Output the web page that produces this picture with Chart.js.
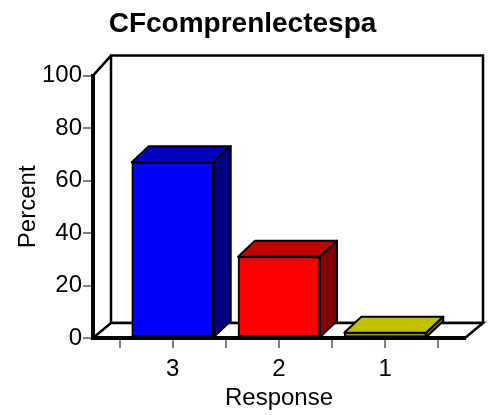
<!DOCTYPE html>
<html>
<head>
<meta charset="utf-8">
<script src="https://cdn.jsdelivr.net/npm/chart.js@4/dist/chart.umd.min.js"></script>
<style>
  html, body { margin: 0; padding: 0; background: #fff; }
  #wrap { width: 490px; height: 415px; }
</style>
</head>
<body>
<div id="wrap"><canvas id="chart" width="490" height="415"></canvas></div>
<script>
// data
const categories = ['3', '2', '1'];
const percents = [67, 31, 2];
const yLabelTicks = [0, 20, 40, 60, 80, 100];

const frontColors = ['#0000ff', '#ff0000', '#ffff00'];
const topColors = ['#0000c0', '#c00000', '#c0c000'];
const sideColors = ['#000080', '#800000', '#808000'];

// 3d depth of the box and bars, pixels
const WALL_DX = 18, WALL_DY_BOTTOM = -15, WALL_DY_TOP = -20;
const BAR_DX = 17, BAR_DY = -16;

const FONT = 'Arial, "Liberation Sans", Helvetica, sans-serif';
Chart.defaults.font.family = FONT;
Chart.defaults.color = '#000';

function poly(ctx, pts, fill) {
    ctx.beginPath();
    ctx.moveTo(pts[0][0], pts[0][1]);
    pts.slice(1).forEach(p => ctx.lineTo(p[0], p[1]));
    ctx.closePath();
    if (fill) {
        ctx.fillStyle = fill;
        ctx.fill();
    }
    ctx.stroke();
}

const box3d = {
    id: 'box3d',
    beforeDraw(chart) {
        const { ctx, chartArea: a } = chart;
        ctx.save();
        ctx.strokeStyle = '#000';
        ctx.lineWidth = 2.5;
        ctx.lineJoin = 'miter';
        // back wall
        poly(ctx, [
            [a.left + WALL_DX, a.top + WALL_DY_TOP],
            [a.right + WALL_DX, a.top + WALL_DY_TOP],
            [a.right + WALL_DX, a.bottom + WALL_DY_BOTTOM],
            [a.left + WALL_DX, a.bottom + WALL_DY_BOTTOM]
        ], '#fff');
        // floor
        poly(ctx, [
            [a.left, a.bottom],
            [a.left + WALL_DX, a.bottom + WALL_DY_BOTTOM],
            [a.right + WALL_DX, a.bottom + WALL_DY_BOTTOM],
            [a.right, a.bottom]
        ], '#fff');
        // left wall top edge
        ctx.beginPath();
        ctx.moveTo(a.left, a.top);
        ctx.lineTo(a.left + WALL_DX, a.top + WALL_DY_TOP);
        ctx.stroke();
        ctx.restore();
    },
    afterDatasetsDraw(chart) {
        const { ctx } = chart;
        const meta = chart.getDatasetMeta(0);
        ctx.save();
        ctx.strokeStyle = '#000';
        ctx.lineWidth = 2;
        ctx.lineJoin = 'round';
        meta.data.forEach((bar, i) => {
            const { x, y, base, width } = bar.getProps(['x', 'y', 'base', 'width'], true);
            const l = x - width / 2, r = x + width / 2;
            poly(ctx, [[l, y], [l + BAR_DX, y + BAR_DY], [r + BAR_DX, y + BAR_DY], [r, y]], topColors[i]);
            poly(ctx, [[r, y], [r + BAR_DX, y + BAR_DY], [r + BAR_DX, base + BAR_DY], [r, base]], sideColors[i]);
        });
        ctx.restore();
    }
};

new Chart(document.getElementById('chart'), {
    type: 'bar',
    data: {
        datasets: [{
            data: percents.map((v, i) => ({ x: i, y: v })),
            backgroundColor: frontColors,
            borderColor: '#000',
            borderWidth: 2,
            borderSkipped: false,
            barThickness: 82
        }]
    },
    options: {
        responsive: false,
        animation: false,
        layout: { padding: { left: 20, right: 25, top: 0, bottom: 0 } },
        plugins: {
            legend: { display: false },
            tooltip: { enabled: false },
            title: {
                display: true,
                text: 'CFcomprenlectespa',
                color: '#000',
                font: { size: 28, weight: 'bold', family: FONT, lineHeight: 1.2 },
                padding: { top: 7, bottom: 35 }
            }
        },
        scales: {
            x: {
                type: 'linear',
                min: -0.75,
                max: 2.75,
                offset: false,
                afterFit: scale => { scale.height = 77; },
                // a tick on each category and one between neighbours
                afterBuildTicks: scale => {
                    const t = [];
                    for (let v = -0.5; v <= categories.length - 0.5; v += 0.5) t.push({ value: v });
                    scale.ticks = t;
                },
                ticks: {
                    autoSkip: false,
                    maxRotation: 0,
                    padding: 7,
                    font: { size: 24 },
                    callback: v => Number.isInteger(v) ? categories[v] : ''
                },
                grid: {
                    offset: false,
                    drawOnChartArea: false,
                    tickLength: 10,
                    color: '#808080',
                    lineWidth: 2
                },
                border: { color: '#000', width: 4 },
                title: {
                    display: true,
                    text: 'Response',
                    font: { size: 24 },
                    padding: { top: 0, bottom: 2 }
                }
            },
            y: {
                min: 0,
                max: 100,
                afterFit: scale => { scale.width = 73; },
                ticks: {
                    stepSize: 10,
                    padding: 1,
                    font: { size: 24 },
                    callback: v => yLabelTicks.includes(v) ? v : ''
                },
                grid: {
                    drawOnChartArea: false,
                    tickLength: 10,
                    color: '#808080',
                    lineWidth: 2
                },
                border: { color: '#000', width: 4 },
                title: {
                    display: true,
                    text: 'Percent',
                    font: { size: 24 },
                    padding: { top: -6, bottom: 0 }
                }
            }
        }
    },
    plugins: [box3d]
});
</script>
</body>
</html>
